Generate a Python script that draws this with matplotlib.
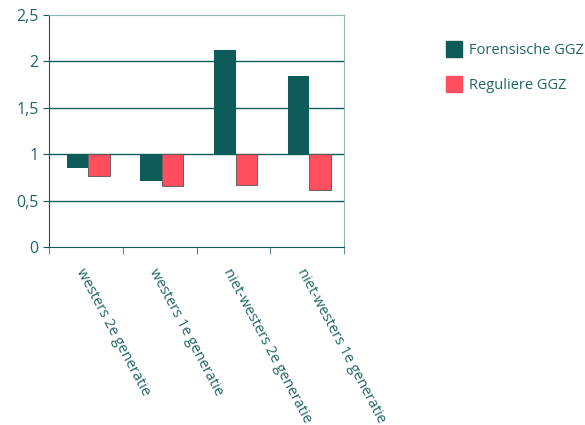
import numpy as np
import matplotlib
matplotlib.use('Agg')
import matplotlib.pyplot as plt
from matplotlib.patches import Patch

categories = ['westers 2e generatie', 'westers 1e generatie',
              'niet-westers 2e generatie', 'niet-westers 1e generatie']
forensisch = [0.85, 0.71, 2.12, 1.84]
regulier = [0.77, 0.66, 0.67, 0.61]
series_names = ['Forensische GGZ', 'Reguliere GGZ']

TEAL = '#0d5c5a'
RED = '#ff4f5e'
TXT = '#1f6663'

plt.rcParams['font.family'] = ['Open Sans', 'DejaVu Sans']

fig = plt.figure(figsize=(5.85, 4.25), dpi=100)
ax = fig.add_axes([0.0838, 0.4188, 0.5043, 0.5459])

x = np.arange(len(categories))
w = 0.29
base = 1.0
ax.bar(x + 0.03 - w / 2, np.array(forensisch) - base, w, bottom=base,
       color=TEAL, zorder=3)
ax.bar(x + 0.03 + w / 2, np.array(regulier) - base, w, bottom=base,
       color=RED, edgecolor='#555555', linewidth=0.6, zorder=3)

ax.set_xlim(-0.5, len(categories) - 0.5)
ax.set_ylim(0, 2.5)
ax.set_yticks([0, 0.5, 1, 1.5, 2, 2.5])
ax.set_yticklabels(['0', '0,5', '1', '1,5', '2', '2,5'])
for yv in [0.5, 1, 1.5, 2]:
    ax.axhline(yv, color=TEAL, linewidth=1.0, zorder=1)

ax.set_xticks(np.arange(len(categories) + 1) - 0.5)
ax.set_xticklabels([])
ax.set_xticks(x, minor=True)
ax.set_xticklabels(categories, minor=True, rotation=-62, ha='left', va='top',
                   rotation_mode='anchor', color=TXT, fontsize=10.5)
ax.tick_params(axis='x', which='minor', length=0, pad=14)
ax.tick_params(axis='x', which='major', length=5, color='#5f8f8d')
ax.tick_params(axis='y', length=4, color=TEAL, labelcolor=TXT, labelsize=11.5)

for s in ['left', 'bottom']:
    ax.spines[s].set_color(TEAL)
for s in ['top', 'right']:
    ax.spines[s].set_color('#8fb3b1')

handles = [Patch(color=TEAL), Patch(color=RED)]
leg = fig.legend(handles, series_names, loc='upper left',
                 bbox_to_anchor=(0.74, 0.935), frameon=False,
                 handlelength=1.1, handleheight=1.3, labelspacing=1.25,
                 handletextpad=0.5, fontsize=10.5)
for t in leg.get_texts():
    t.set_color(TXT)

fig.savefig('out.png', dpi=100)
